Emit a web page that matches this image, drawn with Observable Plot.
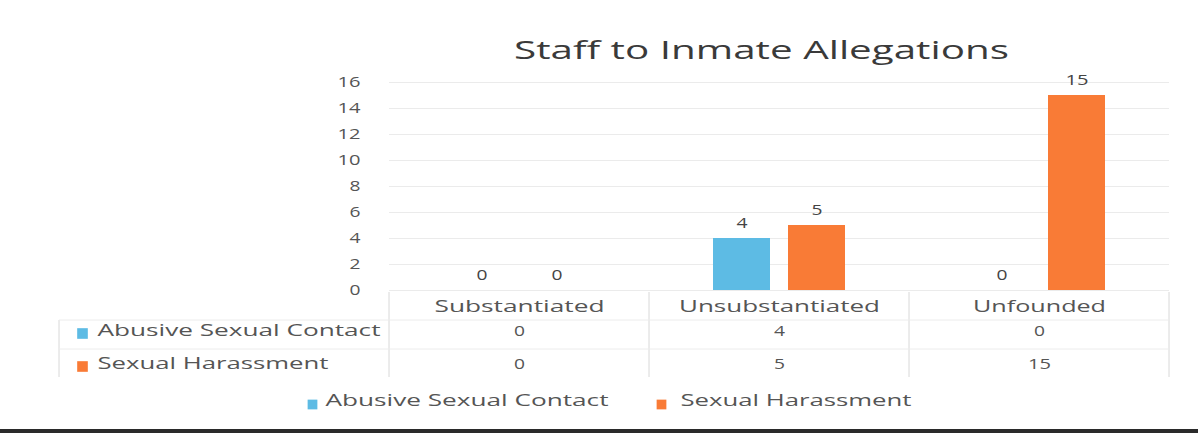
<!DOCTYPE html>
<html>
<head>
<meta charset="utf-8">
<script src="https://cdn.jsdelivr.net/npm/d3@7"></script>
<script src="https://cdn.jsdelivr.net/npm/@observablehq/plot@0.6"></script>
<style>
  html, body { margin: 0; padding: 0; background: #fff; }
  #chart { width: 1198px; height: 433px; position: relative; overflow: hidden; }
  svg { font-family: "Open Sans", "DejaVu Sans", sans-serif; }
  .strip { position: absolute; left: 0; top: 429px; width: 1198px; height: 4px; background: #2a2a2a; }
</style>
</head>
<body>
<div id="chart"></div>
<script>
const title = "Staff to Inmate Allegations";
const categories = ["Substantiated", "Unsubstantiated", "Unfounded"];
const seriesNames = ["Abusive Sexual Contact", "Sexual Harassment"];
const abusiveSexualContact = [0, 4, 0];
const sexualHarassment = [0, 5, 15];
const yTicks = [0, 2, 4, 6, 8, 10, 12, 14, 16];
const colors = ["#5DBBE4", "#F97B36"];

const rowsA = categories.map((c, i) => ({category: c, value: abusiveSexualContact[i]}));
const rowsB = categories.map((c, i) => ({category: c, value: sexualHarassment[i]}));
const textColor = "#555";

const plot = Plot.plot({
  width: 1198,
  height: 433,
  marginLeft: 389,
  marginRight: 29,
  marginTop: 82,
  marginBottom: 143,
  style: {background: "transparent", fontFamily: "'Open Sans', sans-serif"},
  x: {domain: categories, padding: 0, axis: null},
  y: {domain: [0, 16], ticks: yTicks, grid: false, label: null, axis: null},
  marks: [
    Plot.gridY(yTicks, {stroke: "#ebebeb", strokeOpacity: 1}),
    Plot.axisY(yTicks, {anchor: "left", tickSize: 0, tickPadding: 29, fontSize: 14, fill: textColor, label: null}),
    Plot.barY(rowsA, {x: "category", y: "value", fill: colors[0], insetLeft: 64, insetRight: 139}),
    Plot.barY(rowsB, {x: "category", y: "value", fill: colors[1], insetLeft: 139, insetRight: 64}),
    Plot.text(rowsA, {x: "category", y: "value", text: d => String(d.value), dx: -37.5, dy: -15, fontSize: 15, fill: "#444"}),
    Plot.text(rowsB, {x: "category", y: "value", text: d => String(d.value), dx: 37.5, dy: -15, fontSize: 15, fill: "#444"}),
    // title
    Plot.text([title], {frameAnchor: "top", text: d => d, dx: -18, dy: -42, fontSize: 26, fill: "#3a3a3a"}),
    // data table: column headers and values
    Plot.text(categories, {x: d => d, frameAnchor: "bottom", text: d => d, dy: 21, fontSize: 17, fill: textColor}),
    Plot.text(rowsA, {x: "category", frameAnchor: "bottom", text: d => String(d.value), dy: 45, fontSize: 15, fill: textColor}),
    Plot.text(rowsB, {x: "category", frameAnchor: "bottom", text: d => String(d.value), dy: 78, fontSize: 15, fill: textColor}),
    // row labels
    Plot.text([seriesNames[0]], {frameAnchor: "bottom-left", text: d => d, dx: -292, dy: 45, textAnchor: "start", fontSize: 16, fill: textColor}),
    Plot.text([seriesNames[1]], {frameAnchor: "bottom-left", text: d => d, dx: -292, dy: 78, textAnchor: "start", fontSize: 16, fill: textColor}),
    Plot.dot([0], {frameAnchor: "bottom-left", symbol: "square", r: 6, fill: colors[0], dx: -307, dy: 43}),
    Plot.dot([0], {frameAnchor: "bottom-left", symbol: "square", r: 6, fill: colors[1], dx: -307, dy: 76}),
    // bottom legend
    Plot.dot([0], {frameAnchor: "bottom-left", symbol: "square", r: 5.5, fill: colors[0], dx: 312 - 389, dy: 114}),
    Plot.text([seriesNames[0]], {frameAnchor: "bottom-left", text: d => d, dx: 325 - 389, dy: 115, textAnchor: "start", fontSize: 16, fill: textColor}),
    Plot.dot([0], {frameAnchor: "bottom-left", symbol: "square", r: 5.5, fill: colors[1], dx: 661 - 389, dy: 114}),
    Plot.text([seriesNames[1]], {frameAnchor: "bottom-left", text: d => d, dx: 680 - 389, dy: 115, textAnchor: "start", fontSize: 16, fill: textColor})
  ]
});

// the scanned reference is horizontally stretched: widen glyphs to match
const widths = {
  "Staff to Inmate Allegations": 495,
  "Substantiated": 170,
  "Unsubstantiated": 201,
  "Unfounded": 133,
  "Abusive Sexual Contact": 283,
  "Sexual Harassment": 231
};
const svg = d3.select(plot);
svg.selectAll("text").each(function() {
  const t = this.textContent;
  let w = widths[t];
  if (w == null && /^\d+$/.test(t)) w = t.length === 1 ? 11 : 23;
  if (w != null) {
    this.setAttribute("textLength", w);
    this.setAttribute("lengthAdjust", "spacingAndGlyphs");
  }
});

// table borders drawn using the plot's own scales
const xs = plot.scale("x");
const ys = plot.scale("y");
const base = ys.apply(0);
const bw = xs.bandwidth;
const g = svg.append("g").attr("stroke", "#d8d8d8").attr("stroke-width", 1);
const edges = categories.map(c => xs.apply(c)).concat([xs.apply(categories[categories.length - 1]) + bw]);
edges.forEach(x => g.append("line").attr("x1", x).attr("x2", x).attr("y1", base + 2).attr("y2", base + 87));
g.append("line").attr("x1", 59).attr("x2", 59).attr("y1", base + 30).attr("y2", base + 87);
g.append("line").attr("x1", 59).attr("x2", edges[edges.length - 1]).attr("y1", base + 30).attr("y2", base + 30).attr("stroke", "#ececec");
g.append("line").attr("x1", 59).attr("x2", edges[edges.length - 1]).attr("y1", base + 59).attr("y2", base + 59).attr("stroke", "#ececec");

const container = document.getElementById("chart");
container.appendChild(plot);
const strip = document.createElement("div");
strip.className = "strip";
container.appendChild(strip);
</script>
</body>
</html>
